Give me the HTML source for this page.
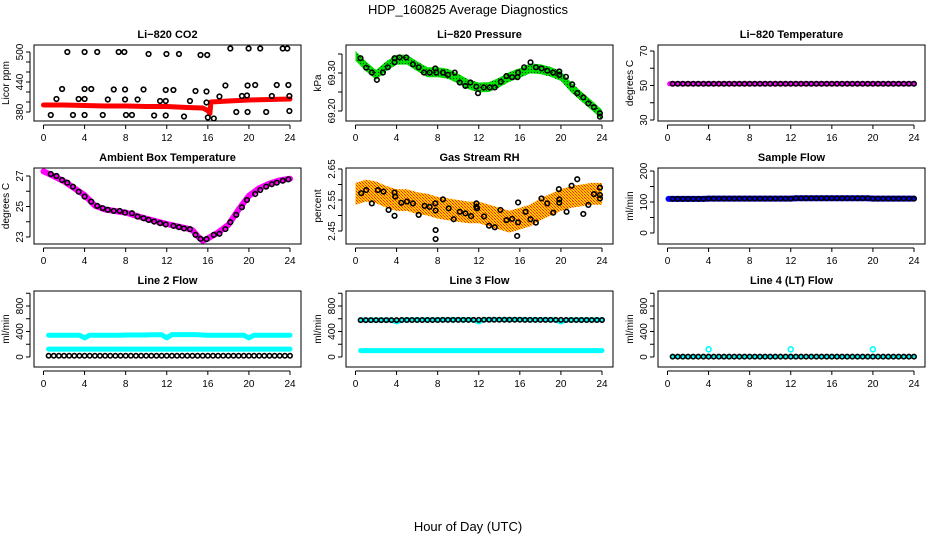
<!DOCTYPE html>
<html><head><meta charset="utf-8"><style>
html,body{margin:0;padding:0;background:#fff;}
svg{display:block;font-family:"Liberation Sans",sans-serif;}
</style></head><body>
<svg id="chart" width="936" height="540" viewBox="0 0 936 540">
<defs>
<pattern id="rhPat" width="3" height="3" patternUnits="userSpaceOnUse"><rect width="3" height="3" fill="#ffc800"/><rect width="1" height="1" fill="#ff2000"/><rect x="1" y="1" width="1" height="1" fill="#ff6000"/><rect x="2" y="2" width="1" height="1" fill="#ff2000"/></pattern>
<pattern id="prPat" width="3" height="3" patternUnits="userSpaceOnUse"><rect width="3" height="3" fill="#00e000"/><rect width="1" height="1" fill="#004000"/></pattern>
</defs>
<text x="468" y="14" text-anchor="middle" font-size="13">HDP_160825  Average Diagnostics</text>
<text x="468" y="531" text-anchor="middle" font-size="13">Hour of Day (UTC)</text>
</svg>
<script>
// ---------- data ----------
const xTicks = [0,4,8,12,16,20,24];
const hours48 = [0.5,1,1.5,2,2.5,3,3.5,4,4.5,5,5.5,6,6.5,7,7.5,8,8.5,9,9.5,10,10.5,11,11.5,12,12.5,13,13.5,14,14.5,15,15.5,16,16.5,17,17.5,18,18.5,19,19.5,20,20.5,21,21.5,22,22.5,23,23.5,24];

// CO2
const co2Hours = [0.71,1.26,1.81,2.32,2.87,3.42,4.0,4.0,4.0,4.0,4.65,5.23,5.77,6.26,6.84,7.32,7.87,7.94,7.94,8.03,8.61,9.16,9.74,10.23,10.77,11.35,11.9,11.9,11.9,11.97,12.65,13.19,13.68,14.26,14.8,15.29,15.87,15.87,16.0,16.58,15.94,17.13,17.71,18.19,18.77,19.32,19.81,19.87,19.87,19.97,20.61,21.1,21.68,22.23,22.71,23.29,23.74,23.84,23.94,23.94];
const co2Means = [374,406,426,500,374,406,426,406,500,374,426,500,374,405,425,500,500,425,405,374,374,405,425,496,373,402,402,424,373,496,424,496,371,402,422,494,421,399,369,367,494,411,433,507,380,412,413,433,380,507,434,507,380,412,434,507,507,434,382,412];
const co2BandHours = [0,2,4,6,8,10,12,14,15.5,16,16.2,16.3,18,20,22,24];
const co2Band = [394,394,393,392,392,391,391,389,388,383,377,400,402,404,405,406];

// Pressure
const prHours = [0.49,1.04,1.59,2.08,2.67,3.15,3.80,3.80,4.29,4.94,5.59,6.15,6.67,7.22,7.77,7.87,8.52,9.0,9.66,10.15,10.7,11.19,11.77,11.93,12.49,13.07,13.56,14.15,14.70,15.25,15.77,15.83,16.42,17.04,17.56,18.11,18.67,19.25,19.84,19.84,20.49,21.1,21.59,22.18,22.67,23.22,23.8,23.8];
const prMeans = [69.339,69.314,69.301,69.282,69.301,69.315,69.339,69.328,69.341,69.341,69.323,69.315,69.301,69.301,69.312,69.301,69.301,69.295,69.301,69.275,69.266,69.275,69.264,69.247,69.262,69.262,69.262,69.277,69.292,69.289,69.289,69.301,69.315,69.328,69.315,69.312,69.306,69.301,69.304,69.295,69.290,69.270,69.247,69.236,69.220,69.210,69.194,69.185];
const prBandHours = [0,1,2,3,4,5,6,7,8,9,10,11,12,13,14,15,16,17,18,19,20,21,22,23,24];
const prBand = [69.345,69.318,69.295,69.318,69.335,69.335,69.318,69.302,69.302,69.298,69.285,69.270,69.262,69.263,69.275,69.290,69.300,69.312,69.310,69.303,69.292,69.262,69.238,69.215,69.190];
const prHalf = 0.013;

// Li-820 temperature
const tempMeans = [51,51,51,51,51,51,51,51,51,51,51,51,51,51,51,51,51,51,51,51,51,51,51,51,51,51,51,51,51,51,51,51,51,51,51,51,51,51,51,51,51,51,51,51,51,51,51,51];

// Ambient box temperature
const ambHours = [0.71,1.26,1.81,2.32,2.87,3.42,4.0,4.65,5.23,5.77,6.26,6.84,7.42,7.94,8.61,9.16,9.74,10.23,10.77,11.35,11.9,12.65,13.19,13.68,14.26,14.8,15.29,15.87,16.58,17.13,17.71,18.19,18.77,19.32,19.81,20.61,21.1,21.68,22.23,22.71,23.29,23.84];
const ambMeans = [27.13,27.0,26.74,26.56,26.30,25.97,25.65,25.32,25.04,24.89,24.78,24.71,24.71,24.60,24.56,24.34,24.23,24.12,24.01,23.91,23.82,23.73,23.65,23.56,23.52,23.14,22.88,22.86,23.14,23.21,23.52,23.97,24.45,24.95,25.43,25.82,26.08,26.30,26.46,26.56,26.69,26.78];
const ambBandHours = [0,0.5,2,4,5,6,8,10,12,14,14.5,15,15.5,16,17,18,19,20,21,22,23,24];
const ambBand = [27.3,27.15,26.65,25.75,25.05,24.8,24.6,24.2,23.85,23.55,23.45,23.05,22.75,22.9,23.3,23.8,24.8,25.7,26.2,26.5,26.72,26.82];

// Gas stream RH
const rhHours = [0.55,1.04,1.59,2.18,2.73,3.22,3.80,3.80,3.87,4.46,5.01,5.59,6.15,6.73,7.22,7.77,7.80,7.80,7.80,8.52,9.07,9.56,10.15,10.70,11.25,11.77,11.77,11.84,12.52,13.0,13.56,14.11,14.7,15.25,15.83,15.83,15.74,16.56,17.04,17.56,18.11,18.67,19.25,19.80,19.84,19.84,20.55,21.04,21.59,22.18,22.67,23.22,23.80,23.80,23.80];
const rhMeans = [2.572,2.582,2.539,2.582,2.577,2.518,2.574,2.499,2.561,2.541,2.545,2.539,2.502,2.531,2.528,2.539,2.516,2.453,2.424,2.552,2.523,2.488,2.512,2.507,2.498,2.539,2.528,2.523,2.497,2.467,2.462,2.518,2.485,2.489,2.542,2.478,2.434,2.512,2.488,2.477,2.555,2.539,2.509,2.585,2.552,2.541,2.512,2.596,2.617,2.505,2.534,2.569,2.590,2.566,2.555];
const rhBandHours = [0,1,2,3,4,5,6,7,8,9,10,11,12,13,14,15,16,17,18,19,20,21,22,23,24];
const rhBand = [2.57,2.58,2.575,2.56,2.55,2.55,2.54,2.535,2.525,2.52,2.515,2.51,2.51,2.50,2.49,2.48,2.49,2.50,2.52,2.535,2.55,2.56,2.565,2.57,2.57];
const rhHalf = 0.035;

// Sample flow
const sampleMeans = [110,110,110,110,110,110,110,111,111,111,111,111,111,111,111,111,111,111,111,111,111,111,111,111,112,112,112,112,112,112,112,112,112,112,112,112,112,112,112,111,111,111,111,111,111,111,111,111];

// Line 2 flow
const l2Means = [20,20,20,20,20,20,20,20,20,20,20,20,20,20,20,20,20,20,20,20,20,20,20,20,20,20,20,20,20,20,20,20,20,20,20,20,20,20,20,20,20,20,20,20,20,20,20,20];
const l2High = [342,342,342,342,342,342,342,300,342,342,342,342,342,342,342,345,345,345,345,345,350,350,350,300,352,352,352,352,352,348,345,342,342,342,342,342,342,342,342,300,342,342,342,342,342,342,342,342];
const l2Low = [124,124,124,124,124,124,124,124,124,124,124,124,124,124,124,124,124,124,124,124,124,124,124,124,124,124,124,124,124,124,124,124,124,124,124,124,124,124,124,124,124,124,124,124,124,124,124,124];

// Line 3 flow
const l3Means = [578,578,578,578,578,578,578,578,580,580,580,580,580,580,580,580,582,582,582,582,582,582,582,582,584,584,584,584,584,584,584,584,582,582,582,582,582,582,582,582,580,580,580,580,580,580,580,580];
const l3High = [580,580,580,580,580,580,580,550,582,582,582,582,582,582,582,582,584,584,584,584,584,584,584,550,586,586,586,586,586,586,586,586,584,584,584,584,584,584,584,550,582,582,582,582,582,582,582,582];
const l3Low = [100,100,100,100,100,100,100,100,100,100,100,100,100,100,100,100,100,100,100,100,100,100,100,100,100,100,100,100,100,100,100,100,100,100,100,100,100,100,100,100,100,100,100,100,100,100,100,100];

// Line 4 flow
const l4Means = [5,5,5,5,5,5,5,5,5,5,5,5,5,5,5,5,5,5,5,5,5,5,5,5,5,5,5,5,5,5,5,5,5,5,5,5,5,5,5,5,5,5,5,5,5,5,5,5];
const l4OutHours = [4,12,20];
const l4Out = [120,120,120];

// ---------- drawing ----------
const NS = 'http://www.w3.org/2000/svg';
const svg = document.getElementById('chart');
const colLeft = [34,346,658], rowTop = [45,168,291], PW = 267, PH = 76;
function mk(tag, attrs, parent){
  const e = document.createElementNS(NS, tag);
  for (const k in attrs) e.setAttribute(k, attrs[k]);
  (parent||svg).appendChild(e);
  return e;
}
function makePanel(name, col, row, title, ylab, v1, p1, v2, p2, ticks, labels){
  const L = colLeft[col], T = rowTop[row];
  const g = mk('g', {});
  
  
  const xs = h => L + 9.5 + h * (246.5/24);
  const ys = v => p1 + (v - v1) * (p2 - p1) / (v2 - v1);
  const clip = mk('clipPath', {id:'clip-'+name}, g);
  mk('rect', {x:L, y:T, width:PW, height:PH}, clip);
  const plot = mk('g', {'clip-path':'url(#clip-'+name+')'}, g);
  
  
  const frame = mk('rect', {x:L, y:T, width:PW, height:PH, fill:'none', stroke:'#000', 'stroke-width':1}, g);
  
  
  const t = mk('text', {x:L+PW/2, y:T-7, 'text-anchor':'middle', 'font-size':11, 'font-weight':'bold'}, g);
  t.textContent = title;
  
  
  const yl = mk('text', {x:0, y:0, 'text-anchor':'middle', 'font-size':10, transform:'translate('+(L-25)+','+(T+PH/2)+') rotate(-90)'}, g);
  yl.textContent = ylab;
  
  
  const xa = mk('g', {}, g);
  
  
  mk('line', {x1:xs(xTicks[0]), x2:xs(xTicks[xTicks.length-1]), y1:T+PH+4, y2:T+PH+4, stroke:'#000'}, xa);
  xTicks.forEach(v => {
    mk('line', {x1:xs(v), x2:xs(v), y1:T+PH+4, y2:T+PH+8, stroke:'#000'}, xa);
    const tx = mk('text', {x:xs(v), y:T+PH+20, 'text-anchor':'middle', 'font-size':10}, xa);
    tx.textContent = v;
    
    
  });
  const ya = mk('g', {}, g);
  
  
  mk('line', {x1:L-4, x2:L-4, y1:ys(ticks[0]), y2:ys(ticks[ticks.length-1]), stroke:'#000'}, ya);
  ticks.forEach(v => {
    mk('line', {x1:L-8, x2:L-4, y1:ys(v), y2:ys(v), stroke:'#000'}, ya);
  });
  labels.forEach(v => {
    const tx = mk('text', {x:0, y:0, 'text-anchor':'middle', 'font-size':10, transform:'translate('+(L-11)+','+ys(v)+') rotate(-90)'}, ya);
    tx.textContent = v;
    
    
  });
  return {plot, xs, ys};
}
function band(p, hs, vals, color, w, nm){
  const pts = hs.map((h,i) => p.xs(h).toFixed(1)+','+p.ys(vals[i]).toFixed(1)).join(' ');
  const pl = mk('polyline', {points:pts, fill:'none', stroke:color, 'stroke-width':w, 'stroke-linejoin':'round', 'stroke-linecap':'round'}, p.plot);
  
  
}
function area(p, hs, vals, half, fill, nm){
  const up = hs.map((h,i) => p.xs(h).toFixed(1)+','+p.ys(vals[i]+half).toFixed(1));
  const dn = hs.map((h,i) => p.xs(h).toFixed(1)+','+p.ys(vals[i]-half).toFixed(1)).reverse();
  const pg = mk('polygon', {points:up.concat(dn).join(' '), fill:fill}, p.plot);
  
  
}
function points(p, hs, vals, color, r, nm){
  hs.forEach((h,i) => {
    const c = mk('circle', {cx:p.xs(h), cy:p.ys(vals[i]), r:r, fill:'none', stroke:color, 'stroke-width':1.6}, p.plot);
    
    
  });
}

p = makePanel('co2', 0, 0, 'Li\u2212820 CO2', 'Licor ppm', 500, 52, 380, 112, [380,400,420,440,460,480,500], [380,440,500]);
band(p, co2BandHours, co2Band, '#ff0000', 5, 'co2-raw-band');
points(p, co2Hours, co2Means, '#000', 2.3, 'co2-mean-point');

p = makePanel('pressure', 1, 0, 'Li\u2212820 Pressure', 'kPa', 69.30, 73, 69.20, 111, [69.20,69.25,69.30,69.35], ['69.20','69.30']);
area(p, prBandHours, prBand, prHalf, 'url(#prPat)', 'pressure-raw-band');
points(p, prHours, prMeans, '#000', 2.3, 'pressure-mean-point');

p = makePanel('licor-temp', 2, 0, 'Li\u2212820 Temperature', 'degrees C', 70, 51, 30, 120, [30,40,50,60,70], [30,50,70]);
band(p, [0.2].concat(hours48), [51].concat(tempMeans), '#ff00ff', 5, 'licor-temp-raw-band');
points(p, hours48, tempMeans, '#000', 2.2, 'licor-temp-mean-point');

p = makePanel('ambient', 0, 1, 'Ambient Box Temperature', 'degrees C', 27, 176, 23, 237, [23,24,25,26,27], [23,25,27]);
band(p, ambBandHours, ambBand, '#ff00ff', 6, 'ambient-raw-band');
points(p, ambHours, ambMeans, '#000', 2.3, 'ambient-mean-point');

p = makePanel('rh', 1, 1, 'Gas Stream RH', 'percent', 2.65, 169, 2.45, 231, [2.45,2.50,2.55,2.60,2.65], ['2.45','2.55','2.65']);
area(p, rhBandHours, rhBand, rhHalf, 'url(#rhPat)', 'rh-raw-band');
points(p, rhHours, rhMeans, '#000', 2.3, 'rh-mean-point');

p = makePanel('sample-flow', 2, 1, 'Sample Flow', 'ml/min', 200, 171, 0, 233, [0,50,100,150,200], [0,100,200]);
band(p, [0.1].concat(hours48), [110].concat(sampleMeans), '#0000ff', 6, 'sample-flow-raw-band');
points(p, hours48, sampleMeans, '#000', 2.2, 'sample-flow-mean-point');

p = makePanel('line2', 0, 2, 'Line 2 Flow', 'ml/min', 0, 357, 800, 306, [0,200,400,600,800,1000], [0,400,800]);
band(p, hours48, l2High, '#00ffff', 5, 'line2-high-band');
band(p, hours48, l2Low, '#00ffff', 5, 'line2-low-band');
points(p, hours48, l2Means, '#000', 2.2, 'line2-mean-point');

p = makePanel('line3', 1, 2, 'Line 3 Flow', 'ml/min', 0, 357, 800, 306, [0,200,400,600,800,1000], [0,400,800]);
band(p, hours48, l3Low, '#00ffff', 5, 'line3-low-band');
band(p, hours48, l3High, '#00ffff', 5, 'line3-high-band');
points(p, hours48, l3Means, '#000', 2.2, 'line3-mean-point');

p = makePanel('line4', 2, 2, 'Line 4 (LT) Flow', 'ml/min', 0, 357, 800, 306, [0,200,400,600,800,1000], [0,400,800]);
band(p, hours48, l4Means, '#00ffff', 4, 'line4-raw-band');
points(p, l4OutHours, l4Out, '#00ffff', 2.5, 'line4-outlier-point');
points(p, hours48, l4Means, '#000', 2.2, 'line4-mean-point');
</script>
</body></html>
